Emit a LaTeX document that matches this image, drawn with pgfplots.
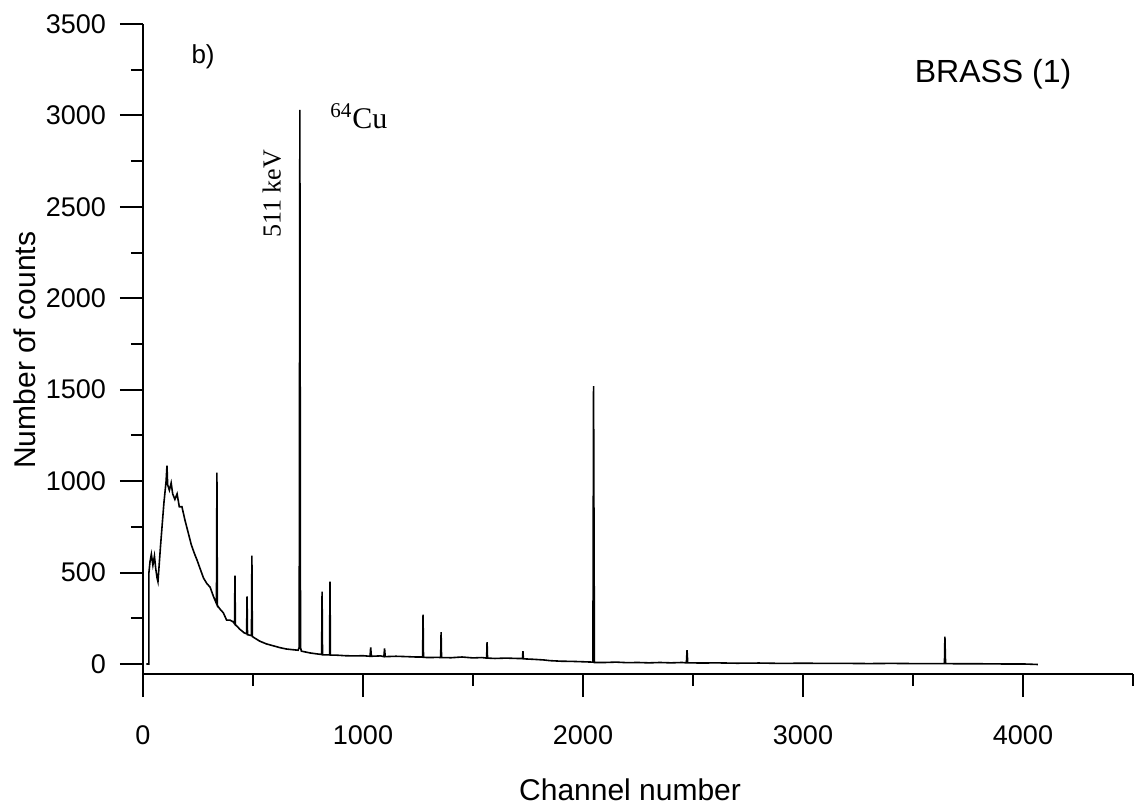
\documentclass[border=0pt]{standalone}
\usepackage{fontspec}
\setmainfont{Liberation Sans}
\newfontfamily\seriffont{Liberation Serif}
\usepackage{pgfplots}
\pgfplotsset{compat=1.18}
\pgfplotstableread{
ch counts
15 0
27 0
27 500
32 560
38 600
45 540
52 590
58 520
64 470
68 450
80 650
95 880
105 1000
109 1085
112 980
120 950
128 990
135 930
145 900
155 930
165 860
177 860
190 790
205 720
220 650
235 600
245 570
260 520
275 470
290 440
305 420
320 370
334 330
336 1046
338 320
350 300
365 280
380 240
395 240
410 230
416 220
418 483
420 215
440 190
460 170
471 165
473 370
475 160
493 155
495 592
497 150
510 140
530 125
560 110
590 100
620 90
650 82
680 78
705 75
710 90
713 3030
716 90
720 70
760 60
790 55
812 52
814 395
816 50
848 50
850 450
852 48
880 48
920 45
960 44
1000 45
1032 42
1035 90
1038 42
1080 44
1095 40
1098 85
1101 40
1150 42
1200 40
1240 38
1271 38
1273 270
1275 36
1300 35
1340 36
1353 35
1355 174
1357 35
1400 34
1450 38
1500 33
1540 35
1562 32
1564 119
1566 32
1600 30
1650 32
1700 30
1725 30
1727 70
1729 28
1780 25
1820 22
1850 18
1900 15
1950 14
2000 12
2045 10
2048 1520
2052 8
2100 8
2150 10
2200 7
2250 8
2300 6
2350 8
2400 6
2450 8
2470 6
2473 75
2476 6
2550 5
2600 6
2700 4
2800 5
2900 3
3000 4
3100 3
3200 3
3300 2
3400 3
3500 2
3600 2
3643 2
3645 150
3648 2
3700 1
3800 1
3900 0
4000 0
4068 -3
}\spectrum
\begin{document}
\begin{tikzpicture}
\begin{axis}[
  at={(0pt,0pt)}, anchor=south west,
  scale only axis, width=495pt, height=325pt,
  xmin=0, xmax=4500, ymin=-55, ymax=3500,
  axis lines=left,
  axis line style={line width=1.2pt, -},
  tick align=outside,
  xtick={0,1000,2000,3000,4000},
  minor xtick={500,1500,2500,3500,4500},
  ytick={0,500,1000,1500,2000,2500,3000,3500},
  minor ytick={250,750,1250,1750,2250,2750,3250},
  major tick length=11.5pt, minor tick length=6pt,
  every tick/.style={line width=1pt, black},
  tick label style={font=\fontsize{13.5}{15}\selectfont},
  xticklabel style={yshift=-11pt},
  yticklabel style={xshift=-3.5pt},
  /pgf/number format/assume math mode=true,
  /pgf/number format/1000 sep={},
  clip=false,
]
\addplot[black, line width=0.8pt, mark=none] table[x=ch, y=counts] {\spectrum};
\node[font=\fontsize{13}{15}\selectfont] at (axis cs:273,3320) {b)};
\node[font=\fontsize{16}{18}\selectfont] at (axis cs:3864,3223) {BRASS (1)};
\node[font=\seriffont\fontsize{15}{17}\selectfont, anchor=base west] at (axis cs:820,2930) {\textsuperscript{64}Cu};
\node[font=\seriffont\fontsize{13}{15}\selectfont, rotate=90] at (axis cs:586,2571) {511 keV};
\node[font=\fontsize{15}{17}\selectfont] at (axis description cs:0.492,-0.178) {Channel number};
\node[font=\fontsize{15}{17}\selectfont, rotate=90] at (axis description cs:-0.119,0.498) {Number of counts};
\end{axis}
\pgfresetboundingbox
\path[use as bounding box] (-71.5pt,-67.5pt) rectangle (498pt,337pt);
\end{tikzpicture}
\end{document}
